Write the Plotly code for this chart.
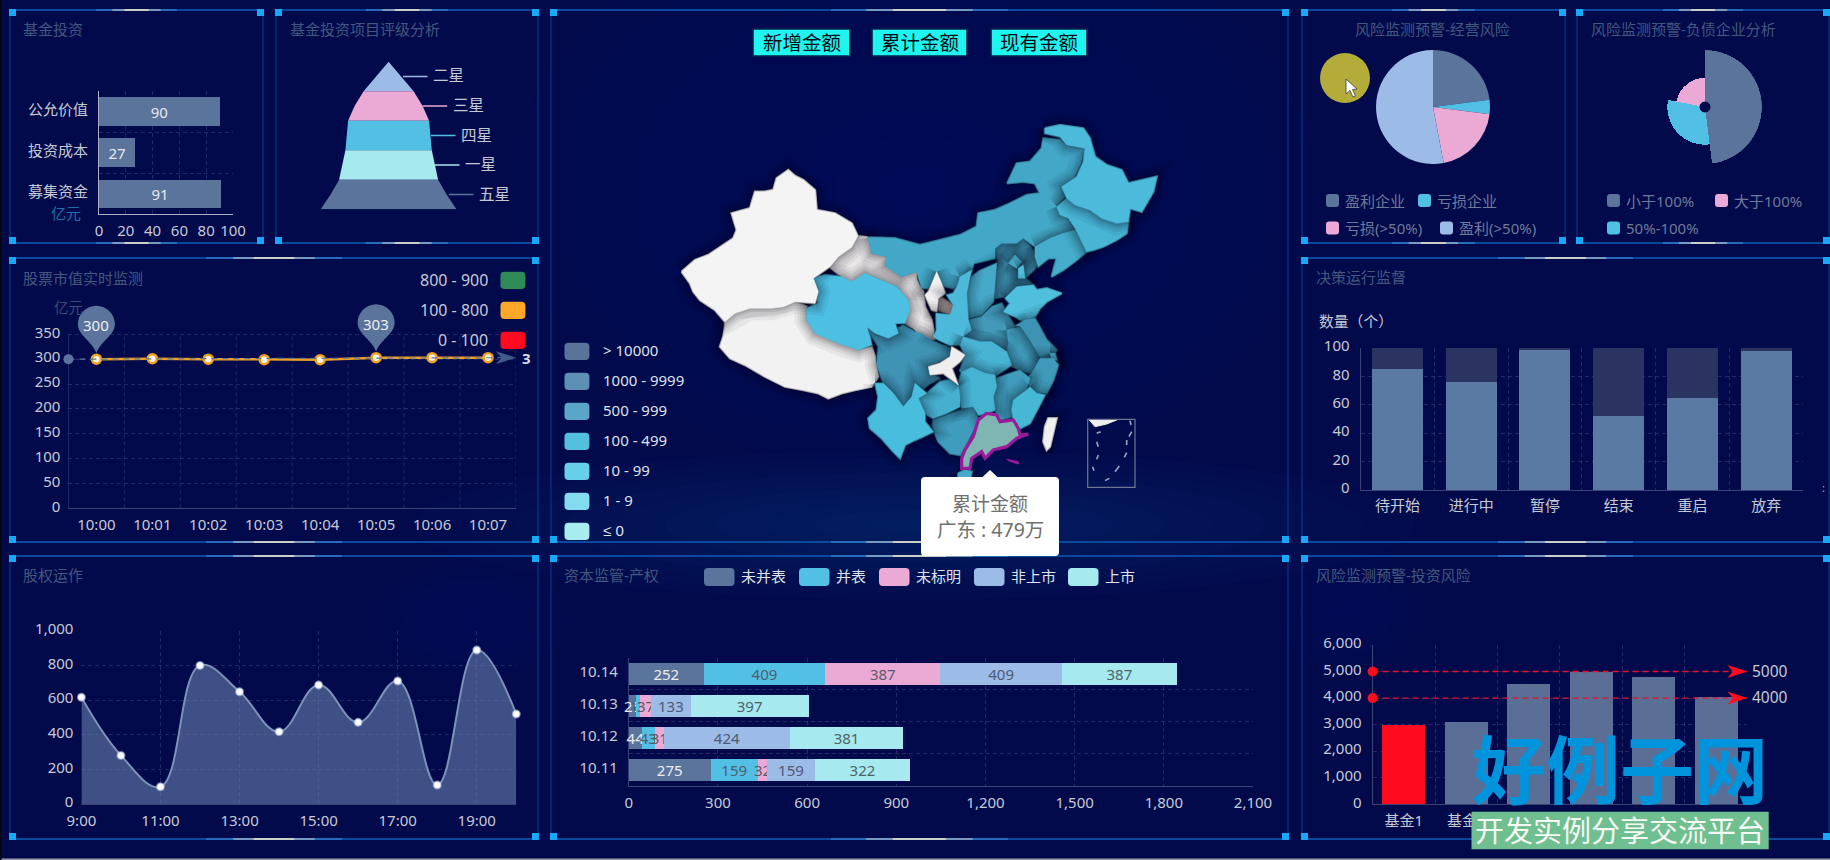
import plotly.graph_objects as go

W, H = 1830, 860
FONT = "Noto Sans, Noto Sans CJK SC, sans-serif"
BG = "#020a4c"
SLATE, BLUE, PINK, SKY, AQUA = "#5b749b", "#52c0e4", "#ebaad6", "#9cbbe6", "#a6e9ef"
TITLE_C, TICK_C, GRID_C = "#42587e", "#c6cad6", "rgba(70,80,135,0.45)"
DIM_C = "#6e7a98"

# ---- fund investment bars ----
FUND_ITEMS = ["募集资金", "投资成本", "公允价值"]
FUND_VALUES = [91, 27, 90]

# ---- rating pyramid ----
STAGE_NAMES = ["二星", "三星", "四星", "一星", "五星"]
STAGE_COLORS = [SKY, PINK, BLUE, AQUA, SLATE]
PYRAMID_HALF_WIDTH = [0, 12.8, 25, 34, 40.5, 41.5, 43.2, 46.3, 49.5, 58, 67.9]
LEADER_START = [14.4, 34.1, 42.4, 46.4, 60.4]

# ---- stock value monitor ----
STOCK_TIMES = ["10:00", "10:01", "10:02", "10:03", "10:04", "10:05", "10:06", "10:07"]
STOCK_VALUES = [300, 301, 300, 299, 299, 303, 303, 303]
STOCK_PINS = [0, 5]
STOCK_RANGES = ["800 - 900", "100 - 800", "0 - 100"]
STOCK_RANGE_COLORS = ["#2e8b57", "#ffa726", "#ff0a1e"]

# ---- equity operations ----
EQUITY_HOURS = ["9:00", "10:00", "11:00", "12:00", "13:00", "14:00", "15:00", "16:00",
                "17:00", "18:00", "19:00", "20:00"]
EQUITY_VALUES = [617, 281, 100, 801, 649, 418, 688, 472, 711, 110, 890, 520]

# ---- capital supervision ----
CAPITAL_DATES = ["10.11", "10.12", "10.13", "10.14"]
CAPITAL_SERIES = ["未并表", "并表", "未标明", "非上市", "上市"]
CAPITAL_UNCONSOLIDATED = [275, 44, 25, 252]
CAPITAL_CONSOLIDATED = [159, 43, 13, 409]
CAPITAL_UNMARKED = [32, 31, 37, 387]
CAPITAL_UNLISTED = [159, 424, 133, 409]
CAPITAL_LISTED = [322, 381, 397, 387]

# ---- operating risk pie ----
OPERATING_NAMES = ["盈利企业", "亏损企业", "亏损(>50%)", "盈利(>50%)"]
OPERATING_VALUES = [23, 4, 20, 53]

# ---- debt ratio rose ----
DEBT_NAMES = ["小于100%", "50%-100%", "大于100%"]
DEBT_VALUES = [48, 30, 22]

# ---- decision supervision ----
DECISION_STATES = ["待开始", "进行中", "暂停", "结束", "重启", "放弃"]
DECISION_COUNTS = [85, 76, 99, 52, 65, 98]
DECISION_MAX = 100

# ---- investment risk ----
RISK_FUNDS = ["基金1", "基金2", "基金3", "基金4", "基金5", "基金6"]
RISK_VALUES = [2970, 3110, 4550, 5000, 4790, 4050]
RISK_LIMITS = [5000, 4000]

# ---- map legend ----
MAP_RANGES = ["> 10000", "1000 - 9999", "500 - 999", "100 - 499", "10 - 99", "1 - 9", "≤ 0"]
MAP_RANGE_COLORS = ["#5b7399", "#5e8fb5", "#5aa6c8", "#55bfe0", "#66cfea", "#82dbee", "#a8ecef"]
MAP_BUTTONS = ["新增金额", "累计金额", "现有金额"]
TOOLTIP_NAME, TOOLTIP_VALUE = "广东", 479

# ---- province outlines, each list measured on one of four map sheets ----
SHEET_WEST = (675, 160)
SHEET_NORTH = (920, 115)
SHEET_SOUTH = (850, 250)
SHEET_ISLES = (930, 400)

XINJIANG = [(20,335),(40,318),(60,300),(100,285),(140,258),(175,235),(185,210),(170,160),(198,152),(225,145),(240,95),(268,95),(295,90),(305,55),(340,30),(360,48),(385,60),(420,90),(425,150),(480,160),(530,190),(548,228),(530,262),(490,290),(465,320),(415,355),(430,395),(420,430),(360,425),(325,440),(290,445),(225,445),(180,460),(150,485),(120,450),(75,420),(55,395),(45,370)]
TIBET = [(150,485),(180,460),(225,445),(290,445),(360,425),(395,440),(395,480),(420,520),(490,550),(550,570),(590,560),(600,590),(610,650),(590,680),(540,690),(500,700),(460,715),(430,700),(385,690),(330,680),(270,650),(210,615),(165,595),(135,560),(145,530),(150,500)]
QINGHAI = [(415,355),(450,345),(500,350),(530,365),(570,340),(620,360),(665,380),(700,420),(705,450),(690,490),(660,490),(670,520),(640,535),(600,520),(575,500),(585,530),(590,555),(550,570),(490,550),(420,520),(395,480),(395,445),(430,430),(425,395)]
GANSU = [(548,228),(578,232),(590,280),(635,290),(630,318),(680,350),(725,335),(725,360),(745,395),(750,440),(770,480),(780,537),(745,540),(715,505),(690,490),(705,450),(700,420),(665,380),(620,360),(570,340),(530,365),(500,350),(465,322),(490,290),(530,262)]
INNER_MONGOLIA = [(-157,367),(-75,370),(0,390),(60,375),(120,360),(170,335),(175,295),(225,285),(270,265),(320,240),(360,235),(345,205),(310,200),(262,205),(290,145),(330,140),(365,100),(370,70),(420,75),(440,92),(495,100),(480,150),(460,190),(425,215),(440,240),(410,270),(420,300),(445,315),(465,345),(430,355),(390,370),(345,395),(310,370),(290,385),(245,385),(225,400),(225,430),(160,445),(155,470),(100,520),(60,510),(45,470),(30,520),(5,520),(-10,470),(-55,485),(-105,453),(-100,425),(-145,415)]
HEILONGJIANG = [(375,40),(420,30),(490,40),(510,70),(525,125),(560,150),(605,165),(625,205),(710,185),(700,230),(665,290),(630,280),(625,320),(590,325),(545,310),(510,285),(465,270),(440,250),(425,215),(470,185),(490,140),(495,100),(470,95),(440,90),(420,65),(375,55)]
JILIN = [(410,275),(440,250),(465,270),(510,285),(545,310),(590,325),(625,320),(620,355),(590,375),(550,395),(520,405),(500,410),(485,380),(465,340),(445,310),(420,300)]
LIAONING = [(345,395),(390,370),(430,355),(465,345),(485,380),(500,410),(470,435),(430,465),(395,485),(410,430),(385,430),(355,455),(345,425)]
HEBEI = [(225,400),(245,385),(290,385),(310,370),(335,400),(355,440),(345,460),(315,490),(340,510),(290,510),(255,545),(220,550),(225,490),(235,445)]
BEIJING = [(265,445),(285,420),(305,440),(290,460)]
TIANJIN = [(295,460),(310,450),(315,490),(295,490)]
SHANDONG = [(255,550),(290,515),(340,510),(350,525),(380,520),(425,535),(380,560),(360,580),(345,605),(310,620),(285,605),(250,590),(270,565)]
SICHUAN = [(55,235),(75,255),(110,265),(135,240),(160,225),(195,245),(215,250),(240,268),(275,285),(305,295),(300,320),(240,345),(240,370),(270,385),(240,400),(215,420),(195,400),(185,440),(160,470),(130,430),(100,400),(80,345),(85,290),(60,250)]
CHONGQING = [(305,290),(345,315),(330,335),(305,355),(325,405),(300,385),(280,370),(240,375),(235,350),(270,340),(300,320)]
YUNNAN = [(75,400),(100,400),(130,430),(160,470),(185,440),(195,400),(230,430),(205,445),(225,490),(225,515),(250,545),(215,560),(195,570),(165,585),(150,625),(125,600),(95,565),(60,535),(55,505),(80,480),(85,440)]
GUIZHOU = [(230,430),(270,395),(300,390),(325,405),(330,440),(330,470),(290,490),(250,505),(225,490),(205,445)]
GUANGXI = [(250,510),(290,495),(335,480),(370,470),(385,510),(365,550),(340,600),(330,615),(300,610),(265,575),(255,550),(248,525)]
GUANGDONG = [(335,625),(345,600),(370,560),(385,510),(410,490),(440,495),(450,515),(490,510),(505,535),(510,555),(535,552),(500,565),(470,590),(430,600),(405,625),(395,605),(365,625),(360,655),(335,655)]
HAINAN = [(325,670),(345,660),(365,665),(360,690),(325,690)]
HUNAN = [(335,365),(365,352),(405,370),(435,375),(440,410),(430,440),(435,480),(410,490),(385,495),(370,470),(335,475),(330,440),(325,405)]
JIANGXI = [(440,385),(480,370),(510,360),(540,385),(530,420),(490,450),(485,500),(450,510),(435,480),(430,440),(440,410)]
FUJIAN = [(540,410),(560,430),(585,435),(560,480),(540,520),(510,535),(490,510),(485,480),(490,450),(530,420)]
ZHEJIANG = [(545,370),(570,325),(610,325),(625,345),(610,390),(590,430),(560,430),(540,410),(530,385)]
SHANGHAI = [(600,310),(615,310),(620,330),(605,330)]
ANHUI = [(470,240),(510,230),(540,270),(570,322),(545,370),(510,360),(480,345),(470,305),(475,280)]
JIANGSU = [(495,228),(525,210),(555,205),(590,270),(620,300),(605,325),(570,322),(540,270),(510,228)]
HUBEI = [(340,260),(390,275),(425,275),(470,305),(485,345),(440,375),(405,370),(365,352),(330,365),(345,315),(330,285)]
HENAN = [(355,210),(395,200),(425,170),(455,160),(470,190),(495,230),(470,240),(475,290),(470,305),(425,275),(390,275),(340,260),(365,235)]
SHAANXI = [(330,80),(365,60),(350,130),(355,210),(365,240),(340,260),(330,285),(300,285),(265,270),(250,260),(260,240),(258,190),(300,195),(310,165),(290,135),(310,130),(325,100)]
SHANXI = [(385,65),(440,40),(435,100),(430,155),(395,195),(355,205),(350,130),(365,80)]
NINGXIA = [(260,65),(275,100),(285,130),(265,145),(260,185),(245,180),(225,135),(235,125)]
GANSU_EAST = [(270,140),(310,165),(300,195),(265,180)]
TAIWAN = [(585,530),(595,505),(620,505),(610,550),(600,590),(590,600),(580,575)]
PARACEL_TIP = [(470,628),(505,635),(505,642),(480,634)]
INSET_ISLAND = [(478,60),(560,60),(530,72),(495,80)]
INSET_DASHES = [((500,100),(512,95)),((600,62),(603,75)),((605,95),(597,110)),((500,125),(505,140)),((590,120),(590,135)),
                ((505,165),(500,178)),((590,158),(583,172)),((488,200),(492,212)),((568,198),(555,215)),((538,235),(525,242))]

MAP_LAYERS = [
    (TIBET, SHEET_WEST, "#f2f2f2"), (GANSU, SHEET_WEST, "#e8e6e6"), (GANSU_EAST, SHEET_SOUTH, "#ab9f9c"),
    (SICHUAN, SHEET_SOUTH, "#3f93b5"), (QINGHAI, SHEET_WEST, "#4dbfe3"), (XINJIANG, SHEET_WEST, "#f4f4f4"),
    (HEBEI, SHEET_NORTH, "#3c8cab"), (BEIJING, SHEET_NORTH, "#45a5c5"), (TIANJIN, SHEET_NORTH, "#4fbfdd"),
    (INNER_MONGOLIA, SHEET_NORTH, "#43a7c7"), (LIAONING, SHEET_NORTH, "#45adcb"), (JILIN, SHEET_NORTH, "#49b5d5"),
    (HEILONGJIANG, SHEET_NORTH, "#4cbbdb"), (SHANXI, SHEET_SOUTH, "#46a9c8"), (NINGXIA, SHEET_SOUTH, "#f0f0f0"),
    (HENAN, SHEET_SOUTH, "#4399b9"), (SHAANXI, SHEET_SOUTH, "#4db9da"), (SHANDONG, SHEET_NORTH, "#4fbfdd"),
    (ANHUI, SHEET_SOUTH, "#3f9aba"), (JIANGSU, SHEET_SOUTH, "#3d93b3"), (SHANGHAI, SHEET_SOUTH, "#4fbfdd"),
    (HUBEI, SHEET_SOUTH, "#49b3d4"), (ZHEJIANG, SHEET_SOUTH, "#3f99b8"), (JIANGXI, SHEET_SOUTH, "#3f9cbc"),
    (FUJIAN, SHEET_SOUTH, "#47b7d6"), (GUANGXI, SHEET_SOUTH, "#3f9cbc"), (HUNAN, SHEET_SOUTH, "#46b3d3"),
    (GUIZHOU, SHEET_SOUTH, "#46afcf"), (CHONGQING, SHEET_SOUTH, "#eeeeee"), (YUNNAN, SHEET_SOUTH, "#49bddd"),
    (HAINAN, SHEET_SOUTH, "#45adcb"), (TAIWAN, SHEET_SOUTH, "#f0f0f0"),
]

PANELS = [(10, 10, 263, 243), (276, 10, 538, 243), (10, 258, 538, 542), (10, 556, 538, 839),
          (551, 10, 1288, 542), (551, 556, 1288, 839), (1302, 10, 1565, 243), (1577, 10, 1829, 243),
          (1302, 258, 1829, 542), (1302, 556, 1829, 839)]

TITLES = [("基金投资", 23.5, 29), ("基金投资项目评级分析", 290, 29), ("股票市值实时监测", 23, 278), ("股权运作", 23, 575),
          ("资本监管-产权", 564, 575), ("风险监测预警-经营风险", 1355, 29), ("风险监测预警-负债企业分析", 1591, 29),
          ("决策运行监督", 1316, 277), ("风险监测预警-投资风险", 1316, 575)]

fig = go.Figure()
shapes, notes = [], []


def domain(x0, y0, x1, y1):
    return dict(domain=[x0 / W, x1 / W]), dict(domain=[1 - y1 / H, 1 - y0 / H])


def place(sheet, outline):
    return [sheet[0] + p[0] / 3 for p in outline], [sheet[1] + p[1] / 3 for p in outline]


def note(x, y, text, size=15, color=TICK_C, anchor="center", family=FONT):
    # annotation boxes carry a little padding, taken back here so the text edge lands on x
    shift = {"left": -2.5, "right": 2.5, "center": 0}[anchor]
    notes.append(dict(xref="x", yref="y", x=x, y=y, text=text, showarrow=False, xanchor=anchor, yanchor="middle",
                      xshift=shift, font=dict(family=family, size=size, color=color)))


def rect(x0, y0, x1, y1, fill, layer="below", line=None, width=0):
    shapes.append(dict(type="rect", xref="x", yref="y", x0=x0, y0=y0, x1=x1, y1=y1, fillcolor=fill, layer=layer,
                       line=dict(width=width, color=line or fill)))


def rounded(x0, y0, x1, y1, r, fill, layer="above", line=None, width=0):
    path = (f"M {x0+r} {y0} L {x1-r} {y0} Q {x1} {y0} {x1} {y0+r} L {x1} {y1-r} Q {x1} {y1} {x1-r} {y1} "
            f"L {x0+r} {y1} Q {x0} {y1} {x0} {y1-r} L {x0} {y0+r} Q {x0} {y0} {x0+r} {y0} Z")
    shapes.append(dict(type="path", xref="x", yref="y", path=path, fillcolor=fill, layer=layer,
                       line=dict(width=width, color=line or fill)))


def glow(cx, cy, rx, ry, color, steps=10):
    # a stack of faint ellipses gives a soft edge
    for i in range(steps):
        f = 1 - i / steps
        shapes.append(dict(type="circle", xref="x", yref="y", x0=cx-rx*f, x1=cx+rx*f, y0=cy-ry*f, y1=cy+ry*f,
                           fillcolor=color, line_width=0, layer="below"))


def segment(x0, x1, y, color, width=1.5):
    shapes.append(dict(type="line", xref="x", yref="y", x0=x0, x1=x1, y0=y, y1=y, layer="below",
                       line=dict(color=color, width=width)))


def anchored(xref, yref, xa, ya, path, fill):
    shapes.append(dict(type="path", xref=xref, yref=yref, xsizemode="pixel", ysizemode="pixel", xanchor=xa, yanchor=ya,
                       path=path, fillcolor=fill, line_width=0, layer="above"))


def axis(dom, **kw):
    base = dict(showline=False, zeroline=False, showgrid=False, ticks="", layer="below traces", fixedrange=True,
                tickfont=dict(family=FONT, size=15, color=TICK_C), griddash="4px,3px", gridcolor=GRID_C, gridwidth=1)
    base.update(dom)
    base.update(kw)
    return base


def band_grid(vals):
    return dict(tickvals=vals, showgrid=True, griddash="4px,3px", gridcolor=GRID_C, ticks="")


layout_axes = {}
page_x, page_y = domain(0, 0, W, H)
layout_axes["xaxis"] = dict(page_x, range=[0, W], visible=False, fixedrange=True)
layout_axes["yaxis"] = dict(page_y, range=[H, 0], visible=False, fixedrange=True)

# page backdrop: soft lighter areas behind the panels
glow(915, 525, 500, 75, "rgba(40,80,170,0.03)")
glow(915, 190, 400, 280, "rgba(30,60,140,0.012)")
glow(470, 620, 95, 60, "rgba(40,80,170,0.015)")
glow(1345, 610, 70, 65, "rgba(40,80,170,0.015)")

# panel frames
for (x0, y0, x1, y1) in PANELS:
    rect(x0, y0, x1, y1, "rgba(0,0,0,0)", line="#083b8e", width=1)
    mid, w = (x0 + x1) / 2, (x1 - x0) * 0.1 + 15
    for y in (y0, y1):
        segment(x0, x1, y, "#0c56ae")
        segment(mid - w, mid + w, y, "rgba(70,140,215,0.7)")
        segment(mid - w * 0.6, mid + w * 0.6, y, "rgba(170,185,195,0.8)")
        segment(mid - w * 0.3, mid + w * 0.3, y, "rgba(240,230,200,0.95)")
    for (cx, cy) in ((x0 + 2.5, y0 + 2.5), (x1 - 2.5, y0 + 2.5), (x0 + 2.5, y1 - 2.5), (x1 - 2.5, y1 - 2.5)):
        rect(cx - 3.5, cy - 3.5, cx + 3.5, cy + 3.5, "#18a8f8")
for (t, x, y) in TITLES:
    note(x, y, t, 15, TITLE_C, "left")

# ---- fund investment ----
dx, dy = domain(99, 91, 233, 214.3)
layout_axes["xaxis2"] = axis(dx, anchor="y2", range=[0, 100], tickvals=[0, 20, 40, 60, 80, 100], showgrid=True,
                             showline=True, linecolor="#aeb2c2", ticklabelstandoff=3)
layout_axes["yaxis2"] = axis(dy, anchor="x2", range=[0, 3], tickvals=[0.5, 1.5, 2.5], ticktext=FUND_ITEMS,
                             showline=True, linecolor="#aeb2c2", ticklabelstandoff=7, ticklabelshift=-2,
                             minor=band_grid([1, 2, 3]))
fig.add_bar(x=FUND_VALUES, y=[0.5, 1.5, 2.5], orientation="h", xaxis="x2", yaxis="y2", marker=dict(color=SLATE, line_width=0),
            text=FUND_VALUES, textposition="inside", insidetextanchor="middle", textangle=0, constraintext="none",
            textfont=dict(family=FONT, size=15, color="#e8e8ee"), showlegend=False)
note(66, 213, "亿元", 15, "#1d6fa8")

# ---- rating pyramid ----
dx, dy = domain(276, 61.7, 538, 209.3)
layout_axes["xaxis3"] = axis(dx, anchor="y3", range=[-112.6, 149.4], visible=False)
layout_axes["yaxis3"] = axis(dy, anchor="x3", range=[5, 0], visible=False)
for k, name in enumerate(STAGE_NAMES):
    hw = PYRAMID_HALF_WIDTH[2 * k:2 * k + 3]
    lv = [k, k + 0.5, k + 1]
    fig.add_scatter(x=[-w for w in hw] + hw[::-1], y=lv + lv[::-1], xaxis="x3", yaxis="y3", mode="lines", fill="toself",
                    fillcolor=STAGE_COLORS[k], line=dict(width=0, color=STAGE_COLORS[k]), showlegend=False)
    fig.add_scatter(x=[LEADER_START[k], LEADER_START[k] + 24.5], y=[k + 0.5, k + 0.5], xaxis="x3", yaxis="y3", mode="lines",
                    line=dict(width=1.5, color=STAGE_COLORS[k]), showlegend=False)
    notes.append(dict(xref="x3", yref="y3", x=LEADER_START[k] + 31, y=k + 0.5, yshift=1, text=name, showarrow=False, xanchor="left",
                      xshift=-3, font=dict(family=FONT, size=15.5, color=TICK_C)))

# ---- stock value monitor (the axis runs on above 350 to leave room for the pins) ----
y_top = 350 * (508.3 - 300) / (508.3 - 334.3)
dx, dy = domain(68.4, 300, 516, 508.3)
layout_axes["xaxis4"] = axis(dx, anchor="y4", range=[-0.5, 7.5], tickvals=list(range(8)), ticktext=STOCK_TIMES,
                             showline=True, linecolor="#3c4476", ticklabelstandoff=3)
layout_axes["yaxis4"] = axis(dy, anchor="x4", range=[0, y_top], tickvals=[0, 50, 100, 150, 200, 250, 300, 350], showgrid=True,
                             ticklabelstandoff=7, ticklabelshift=-2)
grid_x, grid_y = [], []
for i in range(1, 9):
    grid_x += [i - 0.5, i - 0.5, None]
    grid_y += [0, 350, None]
fig.add_scatter(x=grid_x, y=grid_y, xaxis="x4", yaxis="y4", mode="lines", line=dict(color=GRID_C, width=1, dash="4px,3px"), showlegend=False)
fig.add_scatter(x=[-0.5, -0.5], y=[0, 350], xaxis="x4", yaxis="y4", mode="lines", line=dict(color="#3c4476", width=1), showlegend=False)
fig.add_scatter(x=list(range(8)), y=STOCK_VALUES, xaxis="x4", yaxis="y4", mode="lines+markers", line=dict(color="#f0a020", width=2.5),
                marker=dict(size=9, color="#fff6e0", line=dict(color="#f0a020", width=2.5)), showlegend=False)
fig.add_scatter(x=[-0.5, 7.5], y=[STOCK_VALUES[0], STOCK_VALUES[-1]], xaxis="x4", yaxis="y4", mode="lines", cliponaxis=False,
                line=dict(color=SLATE, width=1.2, dash="6px,5px"), showlegend=False)
fig.add_scatter(x=[-0.5], y=[STOCK_VALUES[0]], xaxis="x4", yaxis="y4", mode="markers", cliponaxis=False,
                marker=dict(size=10, color=SLATE), showlegend=False)
ARROW = "M 0 0 L -20 6.5 L -14.5 0 L -20 -6.5 Z"
anchored("x4", "y4", 7.5, STOCK_VALUES[-1], ARROW, "#3f5c8a")
notes.append(dict(xref="x4", yref="y4", x=7.5, y=STOCK_VALUES[-1], text="<b>3</b>", xshift=10, showarrow=False,
                  font=dict(family=FONT, size=15, color="#d8dce4")))
PIN = ("M 0 6 C -4 18 -18.5 24 -18.5 35 C -18.5 45.2 -10.2 53.5 0 53.5 C 10.2 53.5 18.5 45.2 18.5 35 "
       "C 18.5 24 4 18 0 6 Z")
for i in STOCK_PINS:
    anchored("x4", "y4", i, STOCK_VALUES[i], PIN, SLATE)
    notes.append(dict(xref="x4", yref="y4", x=i, y=STOCK_VALUES[i], yshift=34, text=str(STOCK_VALUES[i]), showarrow=False,
                      font=dict(family=FONT, size=15, color="#eef0f4")))
note(68, 307, "亿元", 14.5, "#3c4c74")
for k, (label, color) in enumerate(zip(STOCK_RANGES, STOCK_RANGE_COLORS)):
    rounded(500.5, 271.7 + 30 * k, 525.4, 289 + 30 * k, 4, color)
    note(487.5, 280 + 30 * k, label, 16, TICK_C, "right")

# ---- equity operations ----
dx, dy = domain(81.4, 631, 516.3, 804)
layout_axes["xaxis5"] = axis(dx, anchor="y5", range=[0, 11], tickvals=list(range(0, 12, 2)), ticktext=EQUITY_HOURS[::2], showgrid=True,
                             showline=True, linecolor="#3c4476", ticklabelstandoff=3)
layout_axes["yaxis5"] = axis(dy, anchor="x5", range=[0, 1000], tickvals=[0, 200, 400, 600, 800, 1000], tickformat=",", showgrid=True,
                             ticklabelstandoff=7, ticklabelshift=-2)
fig.add_scatter(x=list(range(12)), y=EQUITY_VALUES, xaxis="x5", yaxis="y5", mode="lines+markers", cliponaxis=False, fill="tozeroy",
                fillcolor="rgba(100,125,170,0.62)", line=dict(color="#7b93b8", width=2, shape="spline", smoothing=1.15),
                marker=dict(size=7, color="#ffffff", line=dict(color="rgba(200,215,240,0.55)", width=2)), showlegend=False)

# ---- capital supervision ----
dx, dy = domain(628.8, 658, 1253, 785.7)
layout_axes["xaxis6"] = axis(dx, anchor="y6", range=[0, 2100], tickvals=list(range(0, 2101, 300)), tickformat=",", showgrid=True,
                             showline=True, linecolor="#3c4476", ticklabelstandoff=3)
layout_axes["yaxis6"] = axis(dy, anchor="x6", range=[0, 4], tickvals=[0.5, 1.5, 2.5, 3.5], ticktext=CAPITAL_DATES, ticklabelstandoff=7,
                             ticklabelshift=-2, showline=True, linecolor="#3c4476", minor=band_grid([1, 2, 3, 4]))
CAPITAL_COLORS = [SLATE, BLUE, PINK, SKY, AQUA]
CAPITAL_TEXT = ["#ecedf2", "#4d5f6e", "#5d5a68", "#4d5a72", "#4d6468"]
CAPITAL_ROWS = [CAPITAL_UNCONSOLIDATED, CAPITAL_CONSOLIDATED, CAPITAL_UNMARKED, CAPITAL_UNLISTED, CAPITAL_LISTED]
for name, vals, col, tc in zip(CAPITAL_SERIES, CAPITAL_ROWS, CAPITAL_COLORS, CAPITAL_TEXT):
    fig.add_bar(x=vals, y=[0.5, 1.5, 2.5, 3.5], orientation="h", name=name, xaxis="x6", yaxis="y6", marker=dict(color=col, line_width=0),
                text=vals, textposition="inside", insidetextanchor="middle", textangle=0, constraintext="none", cliponaxis=False,
                textfont=dict(family=FONT, size=15, color=tc), showlegend=False)
CAPITAL_KEY_X = [704, 799, 879, 974, 1068]
for name, col, kx in zip(CAPITAL_SERIES, CAPITAL_COLORS, CAPITAL_KEY_X):
    rounded(kx, 568, kx + 30.5, 586, 4, col)
    note(kx + 37, 576, name, 15, "#dfe2ea", "left")

# ---- operating risk pie ----
fig.add_pie(labels=OPERATING_NAMES, values=OPERATING_VALUES, sort=False, direction="clockwise", rotation=0, textinfo="none",
            marker=dict(colors=[SLATE, BLUE, PINK, SKY], line=dict(width=0)), showlegend=False,
            domain=dict(x=[1376 / W, 1490 / W], y=[1 - 164 / H, 1 - 50 / H]))
OPERATING_KEY = [(1326, 200.5), (1418, 200.5), (1326, 228), (1440, 228)]
for name, col, (kx, ky) in zip(OPERATING_NAMES, [SLATE, BLUE, PINK, SKY], OPERATING_KEY):
    rounded(kx, ky - 6.5, kx + 13, ky + 6.5, 3, col)
    note(kx + 19, ky, name, 15, DIM_C, "left")
shapes.append(dict(type="circle", xref="x", yref="y", x0=1320, x1=1370, y0=53, y1=103, fillcolor="#b3ac3a", line_width=0, layer="above"))
shapes.append(dict(type="path", xref="x", yref="y", layer="above", fillcolor="#ffffff", line=dict(color="#3a3a3a", width=0.8),
                   path="M 1346 79 L 1346 94 L 1350 90.5 L 1353 97 L 1355.5 96 L 1352.5 89.5 L 1357 89 Z"))

# ---- debt ratio rose ----
total = sum(DEBT_VALUES)
starts = [sum(DEBT_VALUES[:i]) for i in range(len(DEBT_VALUES))]
widths = [v / total * 360 for v in DEBT_VALUES]
thetas = [(s + v / 2) / total * 360 for s, v in zip(starts, DEBT_VALUES)]
fig.add_barpolar(r=DEBT_VALUES, theta=thetas, width=widths, subplot="polar", marker=dict(color=[SLATE, BLUE, PINK], line_width=0), showlegend=False)
DEBT_KEY = [(1607, 200.5, SLATE), (1607, 228, BLUE), (1715, 200.5, PINK)]
for name, (kx, ky, col) in zip(DEBT_NAMES, DEBT_KEY):
    rounded(kx, ky - 6.5, kx + 13, ky + 6.5, 3, col)
    note(kx + 19, ky, name, 15, DIM_C, "left")

# ---- decision supervision ----
dx, dy = domain(1360.6, 348, 1803, 490)
layout_axes["xaxis7"] = axis(dx, anchor="y7", range=[-0.5, 5.5], tickvals=list(range(6)), ticktext=DECISION_STATES, ticklabelstandoff=2,
                             showline=True, linecolor="#3c4476", minor=band_grid([0.5, 1.5, 2.5, 3.5, 4.5, 5.5]))
layout_axes["yaxis7"] = axis(dy, anchor="x7", range=[0, 100], tickvals=[0, 20, 40, 60, 80, 100], showgrid=True, ticklabelstandoff=7,
                             ticklabelshift=-2, showline=True, linecolor="#3c4476")
fig.add_bar(x=list(range(6)), y=DECISION_COUNTS, xaxis="x7", yaxis="y7", marker=dict(color="#5a7aa3", line_width=0), showlegend=False)
fig.add_bar(x=list(range(6)), y=[DECISION_MAX - v for v in DECISION_COUNTS], xaxis="x7", yaxis="y7",
            marker=dict(color="#2b3360", line_width=0), showlegend=False)
note(1356, 320.7, "数量（个）", 14.8, "#c6cad6")
note(1823, 487, ":", 11, "#aab0c0")

# ---- investment risk ----
dx, dy = domain(1372.6, 645, 1747.3, 804.3)
layout_axes["xaxis8"] = axis(dx, anchor="y8", range=[-0.5, 5.5], tickvals=list(range(6)), ticktext=RISK_FUNDS, ticklabelstandoff=3,
                             showline=True, linecolor="#3c4476", minor=band_grid([0.5, 1.5, 2.5, 3.5, 4.5, 5.5]))
layout_axes["yaxis8"] = axis(dy, anchor="x8", range=[0, 6000], tickvals=list(range(0, 6001, 1000)), tickformat=",", showgrid=True,
                             ticklabelstandoff=7, ticklabelshift=-2, showline=True, linecolor="#3c4476")
fig.add_bar(x=list(range(6)), y=RISK_VALUES, xaxis="x8", yaxis="y8",
            marker=dict(color=["#ff0a1e"] + ["#5b6f96"] * 5, line_width=0), showlegend=False)
for lim in RISK_LIMITS:
    fig.add_scatter(x=[-0.5, 5.5], y=[lim, lim], xaxis="x8", yaxis="y8", mode="lines", line=dict(color="#e4102c", width=1.4, dash="6px,4px"), showlegend=False)
    fig.add_scatter(x=[-0.5], y=[lim], xaxis="x8", yaxis="y8", mode="markers", cliponaxis=False, marker=dict(size=10, color="#ff0a1e"), showlegend=False)
    anchored("x8", "y8", 5.5, lim, ARROW, "#ff0a1e")
    notes.append(dict(xref="x8", yref="y8", x=5.5, y=lim, yshift=1, xshift=3, xanchor="left", text=str(lim), showarrow=False,
                      font=dict(family=FONT, size=15.5, color=TICK_C)))

# ---- province map, each region with a soft shadow on whatever lies under it ----
# first a flat pass, so the seams between neighbours do not show the page colour
for outline, sheet, color in MAP_LAYERS:
    xs, ys = place(sheet, outline + outline[:1])
    fig.add_scatter(x=xs, y=ys, mode="lines", fill="toself", fillcolor=color, line=dict(color=color, width=2.5), showlegend=False)
for outline, sheet, color in MAP_LAYERS:
    xs, ys = place(sheet, outline + outline[:1])
    for width, alpha in ((24, 0.05), (18, 0.06), (13, 0.07), (8, 0.09), (4, 0.10)):
        fig.add_scatter(x=xs, y=ys, mode="lines", line=dict(color=f"rgba(0,0,12,{alpha})", width=width), showlegend=False)
    fig.add_scatter(x=xs, y=ys, mode="lines", fill="toself", fillcolor=color, line=dict(color=color, width=0.5), showlegend=False)

xs, ys = place(SHEET_SOUTH, GUANGDONG + GUANGDONG[:1])
fig.add_scatter(x=xs, y=ys, mode="lines", fill="toself", fillcolor="#7fb6b4", line=dict(color="#9a1a9c", width=3.2), showlegend=False)
xs, ys = place(SHEET_SOUTH, PARACEL_TIP + PARACEL_TIP[:1])
fig.add_scatter(x=xs, y=ys, mode="lines", fill="toself", fillcolor="#9a1a9c", line=dict(color="#9a1a9c", width=1), showlegend=False)
xs, ys = place(SHEET_ISLES, INSET_ISLAND + INSET_ISLAND[:1])
fig.add_scatter(x=xs, y=ys, mode="lines", fill="toself", fillcolor="#eeeeee", line=dict(color="#eeeeee", width=1), showlegend=False)
dash_x, dash_y = [], []
for a, b in INSET_DASHES:
    px, py = place(SHEET_ISLES, [a, b])
    dash_x += px + [None]
    dash_y += py + [None]
fig.add_scatter(x=dash_x, y=dash_y, mode="lines", line=dict(color="#9aa6c0", width=1.6), showlegend=False)
rect(1087.7, 419.3, 1135, 487.3, "rgba(0,0,0,0)", layer="above", line="#6d7890", width=1.2)

for k, (label, color) in enumerate(zip(MAP_RANGES, MAP_RANGE_COLORS)):
    rounded(564.5, 342.7 + 30 * k, 589.4, 360 + 30 * k, 4, color)
    note(603.6, 350 + 30 * k, label, 15, "#dfe2ea", "left", family="Liberation Sans" if label.startswith("≤") else FONT)

for (label, x0, x1) in zip(MAP_BUTTONS, (753, 872, 991), (850, 967, 1087)):
    rect(x0, 29, x1, 56, "#1ff4ef", layer="above", line="#06224e", width=1.6)
    note((x0 + x1) / 2, 42.5, label, 19.5, "#0a0a14")

# tooltip over the selected province
rounded(921, 477, 1059, 556, 4, "#ffffff")
shapes.append(dict(type="path", xref="x", yref="y", layer="above", fillcolor="#ffffff", line_width=0, path="M 982 477.5 L 990 470 L 998 477.5 Z"))
note(990, 504, "累计金额", 19, "#707070")
note(990, 529, f"{TOOLTIP_NAME} : {TOOLTIP_VALUE}万", 19.5, "#707070")

# site badge in the lower right corner
rect(1471.5, 811.7, 1768.7, 849.3, "#6fbf90", layer="above")
note(1620, 830.5, "开发实例分享交流平台", 29, "#f6f8f4")
note(1620, 769, "<b>好例子网</b>", 74, "#0094dc")

# page edges
rect(0, 858.5, W, H, "#9a9aa6", layer="above")
rect(0, 0, 1.5, H, "#05060f", layer="above")

fig.update_layout(
    width=W, height=H, autosize=False, margin=dict(l=0, r=0, t=0, b=0, pad=0, autoexpand=False), paper_bgcolor=BG, plot_bgcolor="rgba(0,0,0,0)",
    barmode="stack", bargap=0.31, hovermode=False, showlegend=False, font=dict(family=FONT, color=TICK_C), shapes=shapes, annotations=notes,
    polar=dict(domain=dict(x=[1648 / W, 1762 / W], y=[1 - 164 / H, 1 - 50 / H]), hole=0.096, bgcolor="rgba(0,0,0,0)",
               radialaxis=dict(visible=False, range=[0, max(DEBT_VALUES)]),
               angularaxis=dict(visible=False, direction="clockwise", rotation=90)),
    **layout_axes,
)
fig.write_html("out.html", config=dict(displayModeBar=False))
